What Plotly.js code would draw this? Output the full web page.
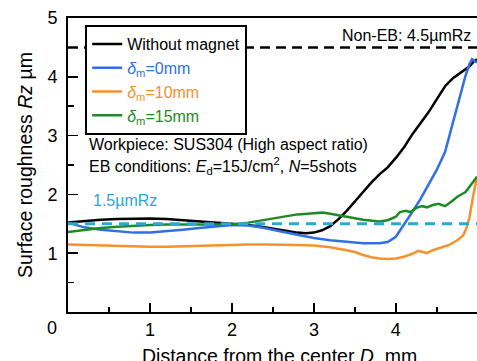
<!DOCTYPE html>
<html>
<head>
<meta charset="utf-8">
<script src="https://cdn.plot.ly/plotly-3.0.1.min.js"></script>
<style>html,body{margin:0;padding:0;background:#fff;}#chart{width:477px;height:361px;}</style>
</head>
<body>
<div id="chart"></div>
<script>
// Distance from the center D (mm) and surface roughness Rz (µm)
const xBlack = [0,0.2,0.4,0.6,0.8,1.0,1.2,1.4,1.6,1.8,2.0,2.2,2.4,2.6,2.8,2.9,3.0,3.1,3.2,3.3,3.4,3.5,3.6,3.7,3.8,3.9,4.0,4.1,4.2,4.3,4.4,4.5,4.57,4.6,4.7,4.8,4.9,4.95,4.99];
const yBlack = [1.52,1.55,1.57,1.58,1.59,1.59,1.58,1.56,1.54,1.52,1.51,1.48,1.44,1.39,1.35,1.34,1.35,1.39,1.46,1.58,1.72,1.88,2.04,2.2,2.34,2.46,2.62,2.8,3.02,3.2,3.4,3.62,3.78,3.84,3.98,4.08,4.18,4.26,4.3];

const xBlue = [0,0.1,0.2,0.4,0.6,0.8,1.0,1.2,1.4,1.6,1.8,2.0,2.2,2.4,2.6,2.8,3.0,3.2,3.4,3.6,3.8,3.9,4.0,4.05,4.1,4.2,4.3,4.4,4.5,4.6,4.7,4.8,4.85,4.9,4.93,4.96,4.99];
const yBlue = [1.52,1.48,1.44,1.40,1.37,1.35,1.35,1.37,1.40,1.43,1.46,1.48,1.47,1.43,1.37,1.31,1.26,1.22,1.19,1.17,1.17,1.19,1.28,1.38,1.50,1.70,1.92,2.16,2.42,2.72,3.25,3.8,4.02,4.22,4.3,4.27,4.24];

const xOrange = [0,0.2,0.4,0.6,0.8,1.0,1.2,1.4,1.6,1.8,2.0,2.2,2.4,2.6,2.8,3.0,3.2,3.4,3.5,3.6,3.7,3.8,3.9,4.0,4.1,4.2,4.27,4.33,4.38,4.45,4.55,4.65,4.75,4.82,4.86,4.9,4.94,4.97,4.99];
const yOrange = [1.15,1.14,1.13,1.12,1.11,1.11,1.11,1.12,1.13,1.14,1.14,1.15,1.15,1.15,1.14,1.13,1.10,1.05,1.02,0.97,0.93,0.91,0.90,0.91,0.94,0.99,1.04,1.02,1.00,1.05,1.10,1.14,1.22,1.30,1.42,1.62,1.95,2.15,2.3];

const xGreen = [0,0.2,0.4,0.6,0.8,1.0,1.2,1.4,1.6,1.8,2.0,2.2,2.4,2.6,2.8,3.0,3.1,3.2,3.4,3.6,3.8,3.9,4.0,4.05,4.12,4.18,4.25,4.32,4.38,4.45,4.52,4.6,4.68,4.75,4.85,4.92,4.99];
const yGreen = [1.36,1.40,1.43,1.45,1.47,1.48,1.49,1.49,1.49,1.49,1.49,1.52,1.57,1.62,1.66,1.68,1.69,1.67,1.62,1.57,1.54,1.56,1.62,1.70,1.72,1.70,1.77,1.80,1.78,1.82,1.84,1.80,1.88,1.96,2.04,2.16,2.3];

const seriesNames = ['Without magnet', '<i>δ</i><sub>m</sub>=0mm', '<i>δ</i><sub>m</sub>=10mm', '<i>δ</i><sub>m</sub>=15mm'];
const seriesColors = ['#000000', '#2f6fe8', '#f5922c', '#1f8a24'];
const nonEbLevel = 4.5;
const targetLevel = 1.5;
const tickVals = [1, 2, 3, 4, 5];

const FONT = 'Liberation Sans, Arial, sans-serif';
const xs = [xBlack, xBlue, xOrange, xGreen];
const ys = [yBlack, yBlue, yOrange, yGreen];

const traces = xs.map((x, i) => ({
  x: x, y: ys[i], type: 'scatter', mode: 'lines',
  name: '<span style="color:' + seriesColors[i] + '">' + seriesNames[i] + '</span>',
  line: {color: seriesColors[i], width: 2.5}
}));

const layout = {
  width: 477, height: 361,
  margin: {l: 68, r: 0, t: 18, b: 49, pad: 0},
  paper_bgcolor: '#fff', plot_bgcolor: '#fff',
  font: {family: FONT, size: 16, color: '#000'},
  showlegend: true,
  legend: {
    x: 0.042, y: 0.976, xanchor: 'left', yanchor: 'top',
    bgcolor: '#fff', bordercolor: '#000', borderwidth: 2,
    font: {family: FONT, size: 16},
    tracegroupgap: 0
  },
  xaxis: {
    range: [0, 4.99], showgrid: false, zeroline: false,
    showline: true, linecolor: '#000', linewidth: 2, mirror: true,
    ticks: 'inside', ticklen: 9, tickwidth: 1.5, tickcolor: '#000',
    tickvals: tickVals, ticktext: tickVals.map(String),
    minor: {tickvals: [0.5, 1.5, 2.5, 3.5, 4.5], ticks: 'inside', ticklen: 5, tickwidth: 1.5, tickcolor: '#000'},
    tickfont: {family: FONT, size: 18},
    automargin: false
  },
  yaxis: {
    range: [0, 5], showgrid: false, zeroline: false,
    showline: true, linecolor: '#000', linewidth: 2, mirror: true,
    ticks: 'inside', ticklen: 10, tickwidth: 1.5, tickcolor: '#000',
    tickvals: tickVals, ticktext: tickVals.map(String),
    minor: {tickvals: [0.5, 1.5, 2.5, 3.5, 4.5], ticks: 'inside', ticklen: 6, tickwidth: 1.5, tickcolor: '#000'},
    tickfont: {family: FONT, size: 18},
    ticklabelstandoff: 5,
    automargin: false,
    title: {text: 'Surface roughness <i>Rz</i> µm', font: {family: FONT, size: 19.5}, standoff: 10}
  },
  shapes: [
    {type: 'line', xref: 'paper', x0: 0, x1: 1, yref: 'y', y0: nonEbLevel, y1: nonEbLevel,
     line: {color: '#000', width: 2.5, dash: '10px,6px'}},
    {type: 'line', xref: 'paper', x0: 0, x1: 1, yref: 'y', y0: targetLevel, y1: targetLevel,
     line: {color: '#27a9d8', width: 3, dash: '10px,7px'}}
  ],
  annotations: [
    {text: 'Non-EB: 4.5µmRz', x: 3.32, y: 4.71, xref: 'x', yref: 'y', xanchor: 'left', yanchor: 'middle', showarrow: false, font: {family: FONT, size: 16}},
    {text: 'Workpiece: SUS304 (High aspect ratio)', x: 0.25, y: 2.69, xref: 'x', yref: 'y', xanchor: 'left', yanchor: 'bottom', borderpad: 0, showarrow: false, font: {family: FONT, size: 16}},
    {text: 'EB conditions: <i>E</i><sub>d</sub>=15J/cm<sup>2</sup>, <i>N</i>=5shots', x: 0.25, y: 2.69, xref: 'x', yref: 'y', xanchor: 'left', yanchor: 'top', borderpad: 0, showarrow: false, font: {family: FONT, size: 16}},
    {text: '1.5µmRz', x: 0.28, y: 1.9, xref: 'x', yref: 'y', xanchor: 'left', yanchor: 'middle', showarrow: false, font: {family: FONT, size: 16, color: '#27a9d8'}},
    {text: '0', x: -0.039, y: -0.054, xref: 'paper', yref: 'paper', xanchor: 'center', yanchor: 'middle', showarrow: false, font: {family: FONT, size: 18}},
    {text: 'Distance from the center <i>D</i>\u00a0\u00a0mm', x: 0.518, y: -0.148, xref: 'paper', yref: 'paper', xanchor: 'center', yanchor: 'middle', showarrow: false, font: {family: FONT, size: 19.5}}
  ]
};

Plotly.newPlot('chart', traces, layout, {displayModeBar: false, staticPlot: true});
</script>
</body>
</html>
